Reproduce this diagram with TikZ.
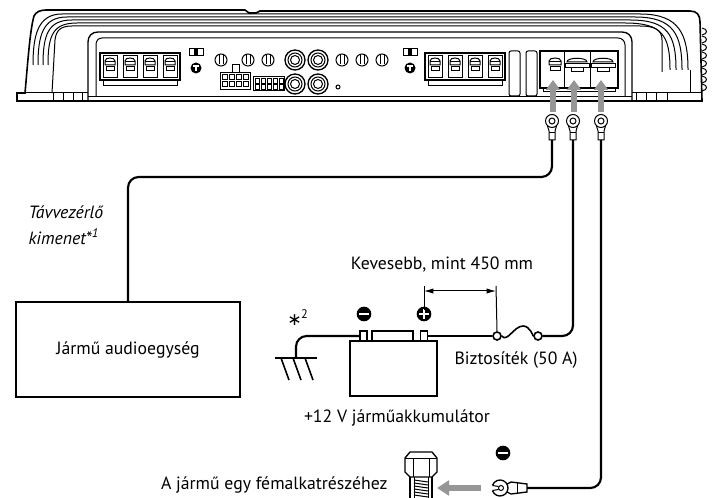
\documentclass[tikz,border=0pt]{standalone}
\usepackage{fontspec}
\setmainfont{PT Sans}
\newfontfamily\starfont{DejaVu Sans}
\usetikzlibrary{arrows.meta}

\definecolor{arrowgray}{RGB}{150,150,150}
\tikzset{every picture/.style={line width=0.75pt}}
\tikzset{
  wire/.style={line width=1.6pt, rounded corners=8pt},
  grayup/.style={draw=arrowgray, line width=4.5pt, -{Triangle[width=10.5pt,length=7.5pt]}},
  grayleft/.style={draw=arrowgray, line width=5pt, -{Triangle[width=11pt,length=9pt]}},
  lbl/.style={inner sep=0.75pt, font=\fontsize{13.3}{16}\selectfont},
  fusept/.style={circle, draw, line width=1.2pt, fill=white, inner sep=0pt, minimum size=6pt},
  post/.style={draw, line width=1pt, fill=white, inner sep=0pt, minimum width=5.25pt, minimum height=7.5pt},
  minussign/.style={circle, fill=black, minimum size=11pt, inner sep=0pt,
    path picture={\fill[white] ([xshift=-3.8pt,yshift=-1.1pt]path picture bounding box.center) rectangle ([xshift=3.8pt,yshift=1.1pt]path picture bounding box.center);}},
  plussign/.style={circle, fill=black, minimum size=11pt, inner sep=0pt,
    path picture={\fill[white] ([xshift=-3.8pt,yshift=-1.1pt]path picture bounding box.center) rectangle ([xshift=3.8pt,yshift=1.1pt]path picture bounding box.center);
      \fill[white] ([xshift=-1.1pt,yshift=-3.8pt]path picture bounding box.center) rectangle ([xshift=1.1pt,yshift=3.8pt]path picture bounding box.center);}},
}

\begin{document}
\begin{tikzpicture}[x=0.75pt,y=0.75pt,yscale=-1,xscale=1]
\useasboundingbox (0,0) rectangle (712,498);

%Shape: Amplifier body
\draw [line width=1.2pt] (17,101) -- (17,93) -- (25,93) .. controls (28,60) and (30,30) .. (34,16) .. controls (36,12) and (40,10) .. (46,10) -- (245,10) -- (249,13) -- (256,13) -- (260,11) -- (690,11) .. controls (697,11) and (700,15) .. (700,22) -- (702,101) -- cycle ;
%Ridges and fins
\foreach \k in {0,...,3}
  \draw ({33+5*\k},65) .. controls ({33+5*\k},35) and ({38+5*\k},{14+3*\k}) .. ({62+5*\k},{14+3*\k}) -- ({640-5*\k},{14+3*\k}) .. controls ({680-6*\k},{14+3*\k}) and ({688-6*\k},35) .. ({688-6*\k},70) ;
\draw (52,93) -- (55,40) .. controls (56,31) and (60,26) .. (72,26) -- (640,26) .. controls (655,26) and (662,30) .. (662,40) -- (662,72) ;
\draw (690,70) -- (690,93) ;
%Base
\draw (17,93) -- (88,93) (632,93) -- (702,93) ;
\foreach \x in {53,63,73,82,636,646,656,667}
  \draw (\x,93) -- (\x,101) ;
%Right knurl
\foreach \y in {28,36,...,84}
  \draw (702,\y) .. controls (708,{\y+1}) and (708,{\y+6}) .. (702,{\y+7}) ;

%Shape: Panel
\draw [line width=1pt] (88,101) -- (88,42) .. controls (88,36) and (92,32) .. (98,32) -- (622,32) .. controls (628,32) and (632,36) .. (632,42) -- (632,101) ;
\draw (96,97) -- (96,45) .. controls (96,41) and (98,38) .. (102,38) -- (618,38) .. controls (622,38) and (625,41) .. (625,45) -- (625,97) ;
\draw (88,97) -- (632,97) ;

%Speaker terminal blocks
\foreach \bx in {100,425}{
  \draw [line width=1pt] (\bx,53) rectangle ({\bx+80},80) ;
  \draw ({\bx+3},80) -- ({\bx+3},86) -- ({\bx+77},86) -- ({\bx+77},80) ;
  \foreach \i in {0,...,3}{
    \draw ({\bx+20*\i+3},56) rectangle ({\bx+20*\i+17},78) ;
    \draw [fill=white] ({\bx+20*\i+5},65) -- ({\bx+20*\i+5},61) .. controls ({\bx+20*\i+5},57) and ({\bx+20*\i+15},57) .. ({\bx+20*\i+15},61) -- ({\bx+20*\i+15},65) -- cycle ;
    \draw ({\bx+20*\i+5},62) -- ({\bx+20*\i+15},62) ;
    \draw ({\bx+20*\i+6},67) rectangle ({\bx+20*\i+14},71) ;
  }
}

%Power terminal block
\draw [line width=1pt] (540,51) rectangle (618,88) ;
\draw (543,88) -- (543,92) -- (615,92) -- (615,88) ;
\draw (564,51) -- (564,88) (590,51) -- (590,88) ;
\draw [fill=white] (549,65) -- (549,61) .. controls (549,57) and (561,57) .. (561,61) -- (561,65) -- cycle ;
\draw (549,62) -- (561,62) ;
\draw (550,67) rectangle (560,71) ;
\foreach \x in {577,603}{
  \draw [fill=white] ({\x-10},62) .. controls ({\x-10},57) and ({\x+10},57) .. ({\x+10},62) -- cycle ;
  \draw [fill=white] ({\x-12},64) rectangle ({\x+12},68) ;
  \draw ({\x-6},68) rectangle ({\x+6},72) ;
}
%Slots
\draw [rounded corners=1.5pt] (509,51) rectangle (520,96) ;
\draw [rounded corners=1.5pt] (526,51) rectangle (537,96) ;

%Switches and knobs
\foreach \x in {196,410}{
  \draw ({\x-7},49) rectangle ({\x+7},56) ;
  \fill ({\x-2},49) rectangle ({\x+2},56) ;
  \fill (\x,68) circle (5.5) ;
  \draw [white, line width=0.8pt] ({\x-3},66) -- ({\x+3},66) (\x,66) -- (\x,71) ;
}
\foreach \x in {221,248,268,342,362,382}{
  \draw (\x,60) circle (6) ;
  \draw ({\x-2},55.5) -- ({\x-2},64.5) ({\x+2},55.5) -- ({\x+2},64.5) ;
}
%RCA jacks
\foreach \x in {295,318}
  \foreach \y in {60,84}{
    \draw [line width=1pt] (\x,\y) circle (10) ;
    \draw (\x,\y) circle (7) ;
    \draw (\x,\y) circle (4.5) ;
  }
\draw (338,87) circle (2) ;
%Connectors
\draw (220,73) rectangle (250,90) ;
\draw (232,65) rectangle (239,73) ;
\foreach \i in {0,...,3}
  \foreach \j in {0,1}
    \draw ({222+7*\i},{75+7*\j}) rectangle ++(5,5) ;
\draw (253,77) rectangle (284,91) ;
\foreach \i in {0,...,4}
  \foreach \j in {0,1}
    \draw ({255+6*\i},{79+6*\j}) rectangle ++(4.5,4.5) ;

%Gray arrows up
\foreach \x in {553,574,601}
  \draw [grayup] (\x,112) -- (\x,80) ;

%Ring terminals
\foreach \x/\n in {552/A,573/B,601/C}{
  \draw [fill=white] (\x,121) circle (6.5) ;
  \draw (\x,121) circle (3) ;
  \draw ({\x-4.5},126) -- ({\x-3},131) -- ({\x-3},140) -- ({\x+3},140) -- ({\x+3},131) -- ({\x+4.5},126) ;
  \draw ({\x-3},133) -- ({\x+3},133) ;
  \coordinate (ring\n) at (\x,140) ;
}

% Text Node
\node [draw, line width=1.5pt, minimum width=168pt, minimum height=71.25pt, lbl] (audio) at (128,349.5) {Jármű audioegység};
% Text Node
\node [lbl, anchor=west, font=\fontsize{13.3}{16}\selectfont\itshape] (remote1) at (27,212) {Távvezérlő};
\node [lbl, anchor=west, font=\fontsize{13.3}{16}\selectfont\itshape] (remote2) at (27,237) {kimenet*\textsuperscript{1}};

%Straight Lines: remote wire
\coordinate (remote) at (128,177) ;
\draw [wire] (ringA) |- (remote) -- (audio.north) ;

%Shape: Battery
\node [draw, line width=1.2pt, minimum width=65.25pt, minimum height=41.25pt] (batt) at (393.5,368.5) {};
\draw [line width=1pt] (372,331) rectangle (413,341) ;
\node [post] (negpost) at (363.5,336) {};
\node [post] (pospost) at (424,336) {};
\node [minussign] (neg) at (364,314) {};
\node [plussign] (pos) at (424,314) {};

%Fuse
\node [fusept] (fuseL) at (497,336) {};
\node [fusept] (fuseR) at (538,336) {};
\draw [line width=1.2pt] (fuseL.east) .. controls (507,343) and (514,326) .. (523,326) .. controls (530,326) and (533,336) .. (fuseR.west) ;
\draw [wire] (ringB) |- (fuseR) ;
\draw [wire] (fuseL) -- (pospost) ;

%Ground
\coordinate (gnd) at (296,358) ;
\draw [wire] (negpost) -| (gnd) ;
\draw [line width=1.2pt] (275,358) -- (317,358) ;
\foreach \x in {281,293,305}
  \draw [line width=1.2pt] (\x,358) -- ({\x+8},380) ;

%Dimension
\draw (424,286) -- ([yshift=3pt]pos.north) ;
\draw (496,286) -- (fuseL.north) ;
\draw [{Latex[length=7pt,width=4pt]}-{Latex[length=7pt,width=4pt]}] (424,291) -- (496,291) ;

% Text Node
\node [lbl] (dist) at (442,265) {Kevesebb, mint 450 mm};
% Text Node
\node [lbl] (note2) at (298,318) {{\starfont\fontsize{13}{14}\selectfont ∗}\kern-0.5pt\textsuperscript{2}};
% Text Node
\node [lbl] (fuse) at (516,360) {Biztosíték (50 A)};
% Text Node
\node [lbl] (battxt) at (397,418) {+12 V járműakkumulátor};

%Ground lug
\draw [line width=1pt] (500,488) ++(160:8) arc (160:-160:8) ;
\draw (501,488) circle (2.5) ;
\draw (492.5,485.5) -- (498.5,486.5) (492.5,490.5) -- (498.5,489.5) ;
\draw [line width=1pt] (507,484) -- (511,482) -- (527,484) -- (527,492) -- (511,494) -- (507,492) ;
\draw (517,483) -- (517,493) ;
\coordinate (lug) at (527,488) ;
\node [minussign] (neg2) at (503,453) {};
\draw [wire] (ringC) |- (lug) ;

%Bolt
\draw [line width=1pt] (405,458) -- (410,452) -- (432,452) -- (437,458) -- (437,472) -- (432,477) -- (410,477) -- (405,472) -- cycle ;
\draw (405,458) -- (437,458) (413,458) -- (413,477) (429,458) -- (429,477) ;
\draw [line width=1pt] (410,477) -- (410,498) (432,477) -- (432,498) ;
\draw (414,477) -- (414,498) (428,477) -- (428,498) ;
\foreach \y in {480,483,...,495}
  \draw (414,\y) -- (428,{\y+2}) ;
\draw [grayleft] (481,488) -- (437,488) ;

% Text Node
\node [lbl, anchor=east] (metal) at (389,485) {A jármű egy fémalkatrészéhez};

\end{tikzpicture}
\end{document}
